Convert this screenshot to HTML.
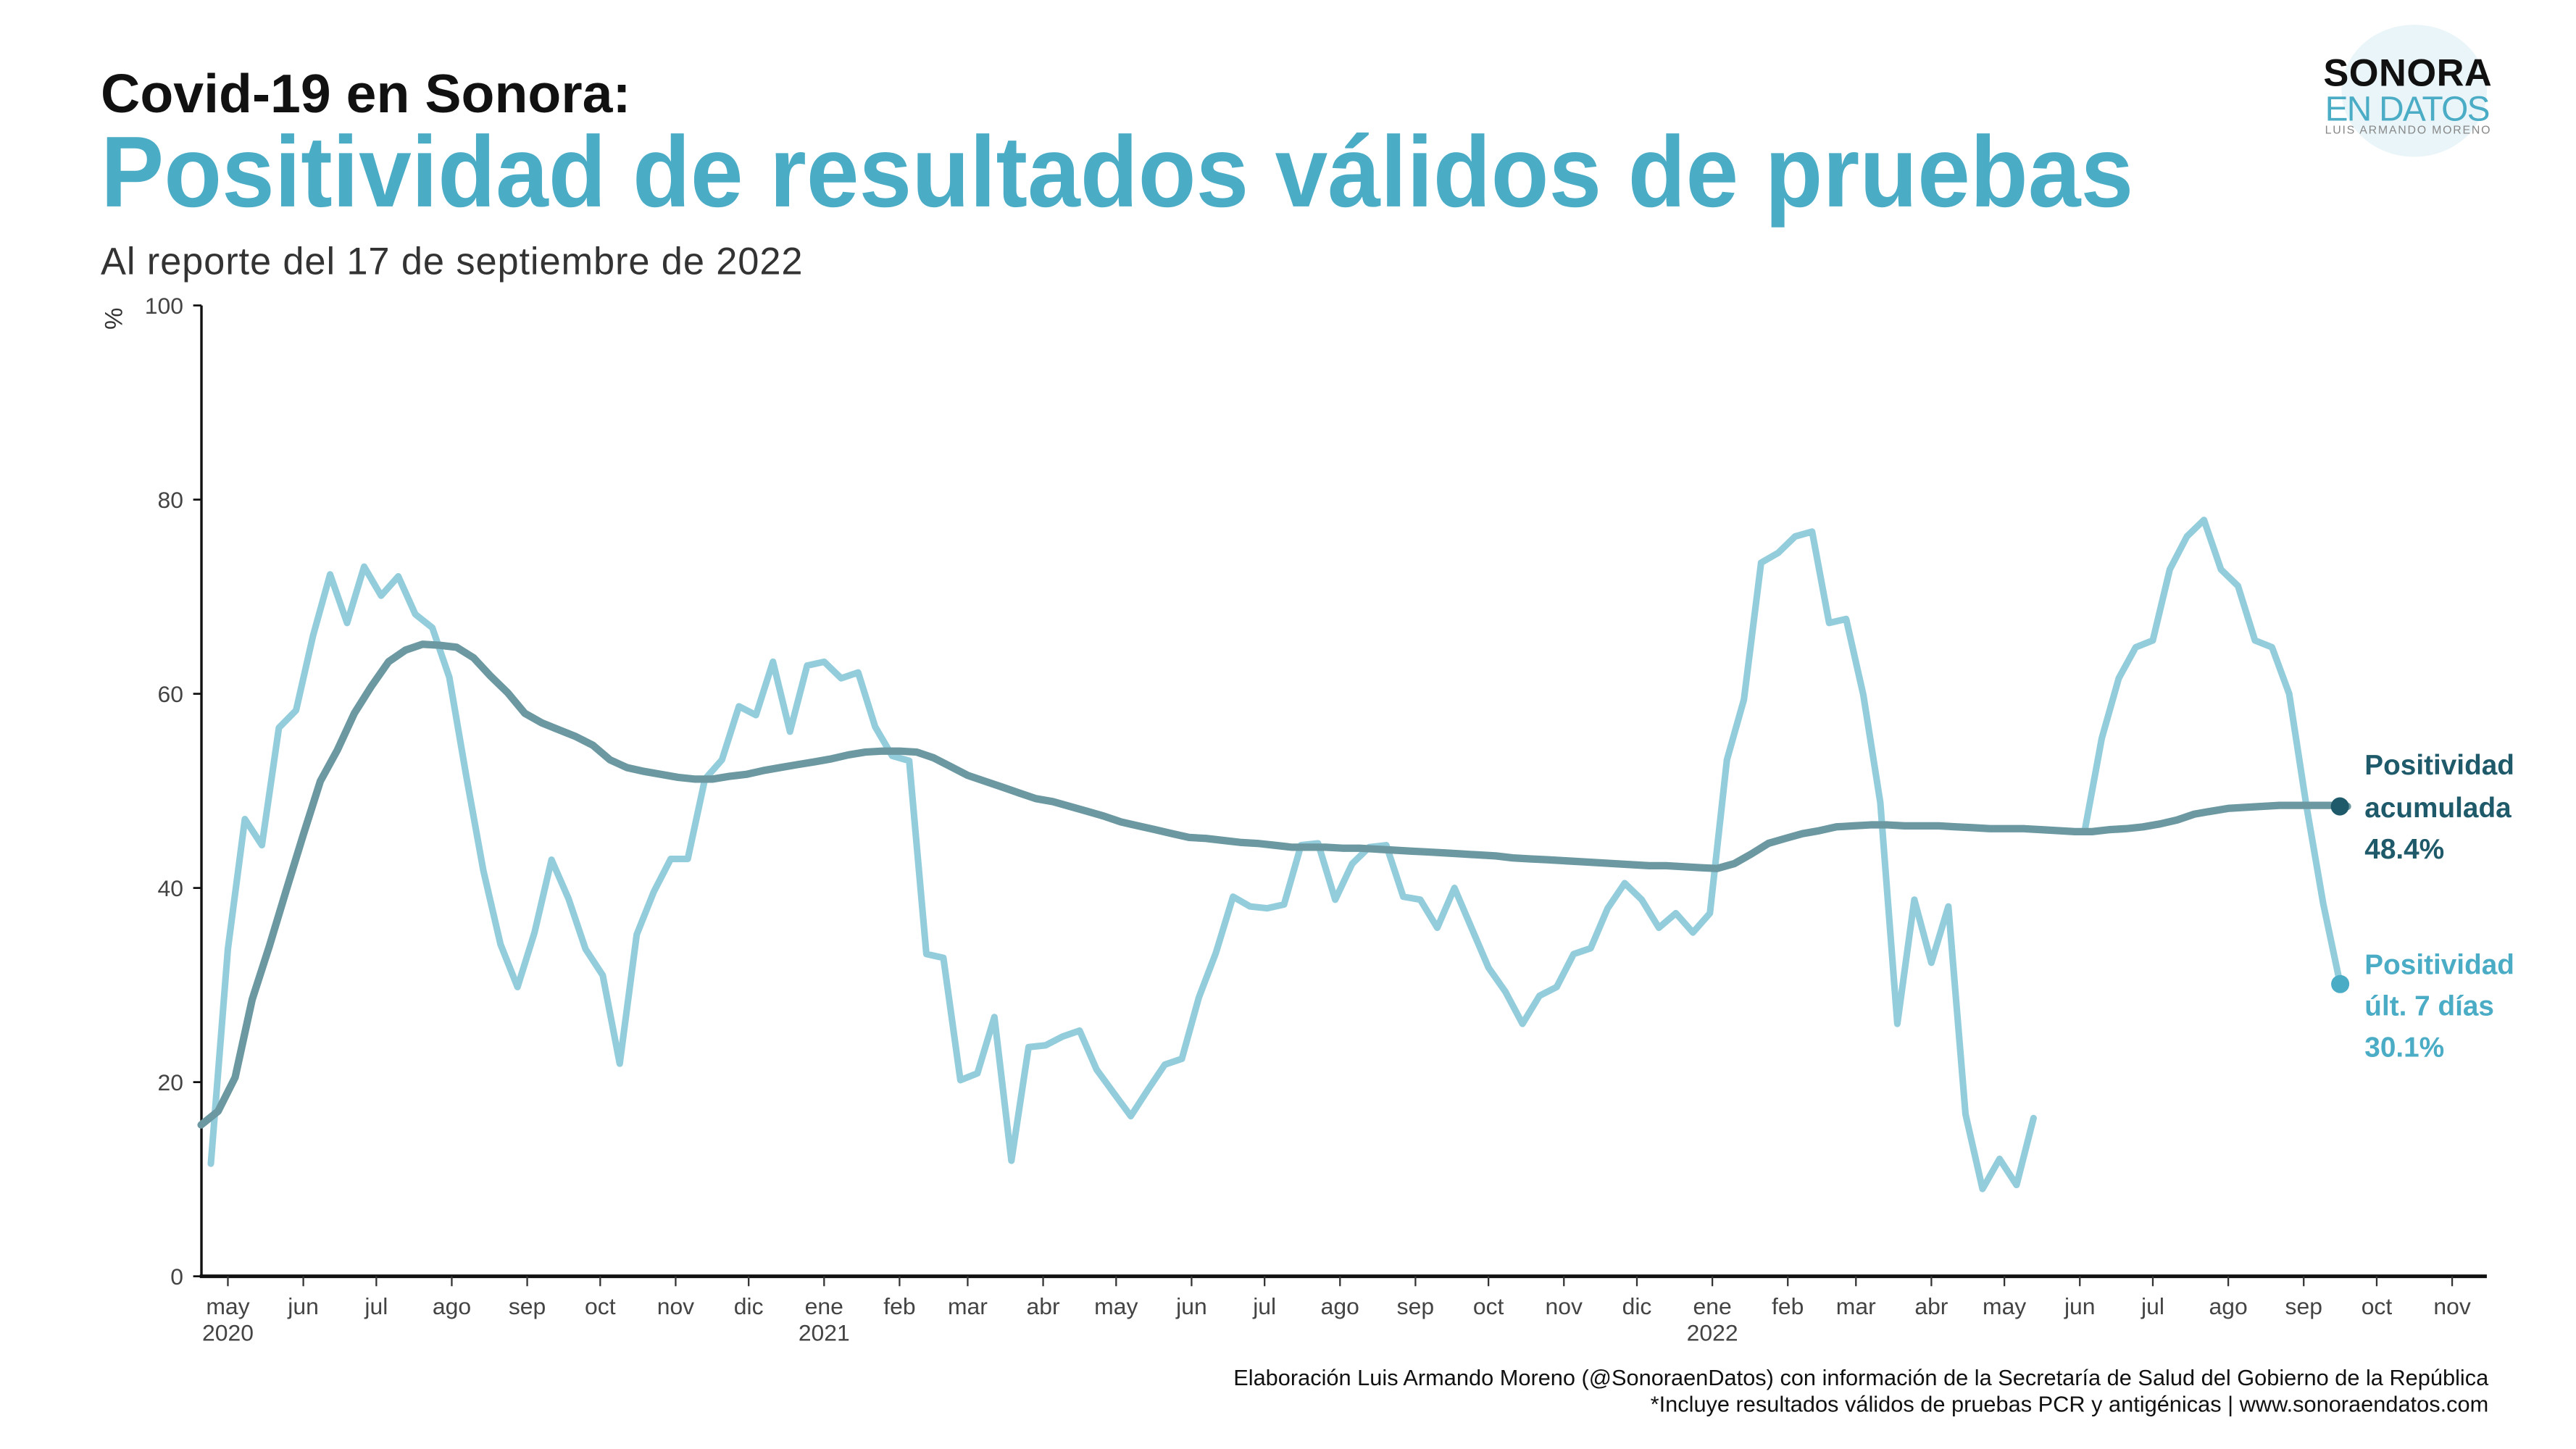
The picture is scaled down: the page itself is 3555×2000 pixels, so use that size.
<!DOCTYPE html>
<html><head><meta charset="utf-8">
<style>
html,body{margin:0;padding:0;background:#fff;}
svg{display:block;font-family:"Liberation Sans",sans-serif;}
</style></head>
<body>
<svg id="chart" width="3555" height="2000" viewBox="0 0 1560 877.6" preserveAspectRatio="none" xmlns="http://www.w3.org/2000/svg">
  <g>
    <ellipse cx="1462" cy="55" rx="44" ry="40" fill="#e9f5f8"/>
    <text x="1458" y="52" text-anchor="middle" font-size="23" font-weight="bold" fill="#111" textLength="102">SONORA</text>
    <text x="1458" y="73" text-anchor="middle" font-size="21" fill="#4bacc6" textLength="100">EN DATOS</text>
    <text x="1458" y="81" text-anchor="middle" font-size="7" fill="#888" textLength="100">LUIS ARMANDO MORENO</text>
  </g>
  <text x="61" y="68" font-size="33" font-weight="bold" fill="#111" textLength="321">Covid-19  en Sonora:</text>
  <text x="61" y="125" font-size="61" font-weight="bold" fill="#4bacc6" textLength="1231" lengthAdjust="spacingAndGlyphs">Positividad de resultados válidos de pruebas</text>
  <text x="61" y="166" font-size="23" fill="#333" textLength="425">Al reporte del 17 de septiembre de 2022</text>
  <text transform="translate(74,193) rotate(-90)" font-size="15" fill="#333" text-anchor="middle">%</text>
  <g id="axes"></g>
  <g id="series"></g>
  <g font-weight="bold" font-size="17" fill="#1f5a6b">
    <text x="1432" y="469">Positividad</text>
    <text x="1432" y="495">acumulada</text>
    <text x="1432" y="520">48.4%</text>
  </g>
  <g font-weight="bold" font-size="17" fill="#4bacc6">
    <text x="1432" y="590">Positividad</text>
    <text x="1432" y="615">últ. 7 días</text>
    <text x="1432" y="640">30.1%</text>
  </g>
  <text x="1507" y="839" text-anchor="end" font-size="13.5" fill="#111">Elaboración Luis Armando Moreno (@SonoraenDatos) con información de la Secretaría de Salud del Gobierno de la República</text>
  <text x="1507" y="855" text-anchor="end" font-size="13.5" fill="#111">*Incluye resultados válidos de pruebas PCR y antigénicas | www.sonoraendatos.com</text>
</svg>
<script>
const accStart = "2020-04-20";
const accValues = [15.6,17,20.5,28.5,34,39.8,45.5,51,54.2,58,60.8,63.3,64.5,65.1,65,64.8,63.7,61.8,60.1,58,57,56.3,55.6,54.7,53.2,52.4,52,51.7,51.4,51.2,51.2,51.5,51.7,52.1,52.4,52.7,53,53.3,53.7,54,54.1,54.1,54,53.4,52.5,51.6,51,50.4,49.8,49.2,48.9,48.4,47.9,47.4,46.8,46.4,46,45.6,45.2,45.1,44.9,44.7,44.6,44.4,44.2,44.2,44.2,44.1,44.1,44,43.9,43.8,43.7,43.6,43.5,43.4,43.3,43.1,43,42.9,42.8,42.7,42.6,42.5,42.4,42.3,42.3,42.2,42.1,42,42.5,43.5,44.6,45.1,45.6,45.9,46.3,46.4,46.5,46.5,46.4,46.4,46.4,46.3,46.2,46.1,46.1,46.1,46,45.9,45.8,45.8,46,46.1,46.3,46.6,47,47.6,47.9,48.2,48.3,48.4,48.5,48.5,48.5,48.5,48.4];
const weekStart = "2020-04-24";
const weekValues = [11.6,33.7,47.1,44.4,56.5,58.3,66,72.3,67.3,73.1,70.1,72.1,68.2,66.8,61.7,51.5,41.8,34.2,29.8,35.4,42.9,38.9,33.7,31,21.9,35.2,39.6,43,43,51.2,53.2,58.7,57.8,63.3,56.1,62.9,63.3,61.6,62.2,56.6,53.6,53.1,33.2,32.8,20.2,20.9,26.7,11.9,23.6,23.8,24.7,25.3,21.3,18.9,16.5,19.2,21.8,22.4,28.7,33.3,39.1,38.1,37.9,38.3,44.4,44.6,38.8,42.5,44.2,44.4,39.1,38.8,35.9,40,35.9,31.8,29.3,26,28.9,29.8,33.2,33.8,37.9,40.5,38.8,35.9,37.4,35.4,37.4,53.2,59.4,73.5,74.5,76.2,76.7,67.3,67.7,59.9,48.8,26,38.8,32.3,38.1,16.7,9,12.1,9.4,16.3,null,null,45.9,55.4,61.6,64.8,65.5,72.8,76.2,77.9,72.8,71.1,65.5,64.8,60,48.6,38.4,30.1];
const yTicks = [0,20,40,60,80,100];
const monthLabels = ["may","jun","jul","ago","sep","oct","nov","dic","ene","feb","mar","abr","may","jun","jul","ago","sep","oct","nov","dic","ene","feb","mar","abr","may","jun","jul","ago","sep","oct","nov"];
const yearLabels = {0:"2020",8:"2021",20:"2022"};
const lastAcc = 48.4, lastWeek = 30.1;

const NS="http://www.w3.org/2000/svg";
const D0=Date.UTC(2020,4,1), DAY=86400000;
function dayOf(s){const p=s.split("-");return (Date.UTC(+p[0],+p[1]-1,+p[2])-D0)/DAY;}
function xS(d){return 138 + d*(1485-138)/914;}
function yS(v){return 773 - v*(773-185)/100;}
function mk(tag,attrs,parent){const e=document.createElementNS(NS,tag);for(const k in attrs)e.setAttribute(k,attrs[k]);parent.appendChild(e);return e;}
const axes=document.getElementById("axes"), series=document.getElementById("series");

let yax=mk("line",{x1:122,y1:185,x2:122,y2:773,stroke:"#111","stroke-width":1.5},axes);


yTicks.forEach(v=>{
  let t=mk("line",{x1:117,x2:122,y1:yS(v),y2:yS(v),stroke:"#111","stroke-width":1.2},axes);
  
  
  let l=mk("text",{x:111,y:yS(v)+5,"text-anchor":"end","font-size":14,fill:"#444"},axes);
  l.textContent=v;
  
  
});
let xax=mk("line",{x1:121,y1:773,x2:1506,y2:773,stroke:"#111","stroke-width":2.2},axes);


monthLabels.forEach((m,i)=>{
  const yr=2020+Math.floor((4+i)/12), mo=(4+i)%12;
  const x=xS((Date.UTC(yr,mo,1)-D0)/DAY);
  let t=mk("line",{x1:x,x2:x,y1:773,y2:779,stroke:"#333","stroke-width":1},axes);
  
  
  let l=mk("text",{x:x,y:796,"text-anchor":"middle","font-size":14,fill:"#444"},axes);
  l.textContent=m;
  
  
  if(yearLabels[i]){
    let yl=mk("text",{x:x,y:812,"text-anchor":"middle","font-size":14,fill:"#444"},axes);
    yl.textContent=yearLabels[i];
    
    
  }
});

function pathFrom(start,vals){
  const d0=dayOf(start);let d="",pen=false;
  vals.forEach((v,i)=>{
    if(v===null){pen=false;return;}
    d+=(pen?"L":"M")+xS(d0+7*i).toFixed(1)+","+yS(v).toFixed(1);pen=true;
  });
  return d;
}
let wl=mk("path",{d:pathFrom(weekStart,weekValues),fill:"none",stroke:"#93cddc","stroke-width":4,"stroke-linejoin":"round","stroke-linecap":"round"},series);


let al=mk("path",{d:pathFrom(accStart,accValues),fill:"none",stroke:"#6c98a1","stroke-width":4.5,"stroke-linejoin":"round","stroke-linecap":"round"},series);


const lastX=xS(dayOf(weekStart)+7*(weekValues.length-1));
let d1=mk("circle",{cx:1417,cy:yS(lastAcc),r:5.5,fill:"#1f5a6b"},series);


let d2=mk("circle",{cx:lastX,cy:yS(lastWeek),r:5.5,fill:"#4bacc6"},series);


</script>
</body></html>
